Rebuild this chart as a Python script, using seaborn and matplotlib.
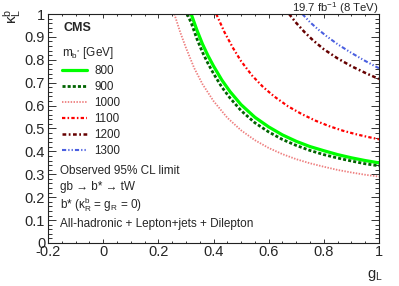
import pandas as pd
import matplotlib
matplotlib.use("Agg")
import matplotlib.pyplot as plt
from matplotlib.ticker import MultipleLocator
import seaborn as sns

# Observed 95% CL limit contours: g_L (x) vs kappa_L^b (y)
masses = ["800", "900", "1000", "1100", "1200", "1300"]

g_800 = [0.319, 0.34, 0.36, 0.38, 0.40, 0.43, 0.46, 0.50, 0.55, 0.60, 0.65, 0.70, 0.75, 0.80, 0.85, 0.90, 0.95, 1.0]
k_800 = [1.0, 0.929, 0.869, 0.818, 0.773, 0.712, 0.661, 0.604, 0.549, 0.507, 0.472, 0.444, 0.421, 0.403, 0.386, 0.372, 0.360, 0.350]

g_900 = [0.305, 0.32, 0.34, 0.36, 0.38, 0.40, 0.43, 0.46, 0.50, 0.55, 0.60, 0.65, 0.70, 0.75, 0.80, 0.85, 0.90, 0.95, 1.0]
k_900 = [1.0, 0.959, 0.891, 0.833, 0.784, 0.740, 0.681, 0.633, 0.578, 0.525, 0.485, 0.452, 0.426, 0.404, 0.386, 0.371, 0.358, 0.346, 0.337]

g_1000 = [0.258, 0.28, 0.30, 0.33, 0.36, 0.40, 0.45, 0.50, 0.55, 0.60, 0.65, 0.70, 0.75, 0.80, 0.85, 0.90, 0.95, 1.0]
k_1000 = [1.0, 0.918, 0.853, 0.764, 0.694, 0.620, 0.547, 0.492, 0.449, 0.415, 0.388, 0.366, 0.348, 0.333, 0.319, 0.308, 0.298, 0.290]

g_1100 = [0.41, 0.44, 0.47, 0.50, 0.54, 0.58, 0.62, 0.67, 0.72, 0.77, 0.82, 0.87, 0.92, 0.96, 1.0]
k_1100 = [1.0, 0.920, 0.853, 0.794, 0.731, 0.681, 0.640, 0.597, 0.563, 0.534, 0.510, 0.490, 0.474, 0.463, 0.453]

g_1200 = [0.674, 0.70, 0.73, 0.76, 0.80, 0.85, 0.90, 0.95, 1.0]
k_1200 = [1.0, 0.961, 0.921, 0.886, 0.846, 0.806, 0.772, 0.743, 0.716]

g_1300 = [0.722, 0.75, 0.78, 0.81, 0.85, 0.90, 0.95, 1.0]
k_1300 = [1.0, 0.964, 0.932, 0.903, 0.868, 0.830, 0.795, 0.763]

curves = {
    "800": (g_800, k_800),
    "900": (g_900, k_900),
    "1000": (g_1000, k_1000),
    "1100": (g_1100, k_1100),
    "1200": (g_1200, k_1200),
    "1300": (g_1300, k_1300),
}

styles = {
    "800": dict(color="#00ff00", linewidth=2.3, linestyle="-"),
    "900": dict(color="#006400", linewidth=2.0, linestyle=(0, (1.1, 0.75))),
    "1000": dict(color="#ee7f7f", linewidth=1.3, linestyle=(0, (0.8, 0.8))),
    "1100": dict(color="#ff0000", linewidth=1.6, linestyle=(0, (1.5, 1.0, 0.7, 1.0))),
    "1200": dict(color="#660000", linewidth=1.8, linestyle=(0, (1.5, 1.0, 0.7, 1.0))),
    "1300": dict(color="#4a5fe0", linewidth=1.5, linestyle=(0, (2.0, 1.0, 0.6, 1.0, 0.6, 1.0))),
}

sns.set_style("ticks")
plt.rcParams["font.family"] = ["Liberation Sans", "DejaVu Sans"]
plt.rcParams["mathtext.fontset"] = "custom"
plt.rcParams["mathtext.rm"] = "Liberation Sans"
plt.rcParams["mathtext.it"] = "Liberation Sans:italic"
plt.rcParams["mathtext.bf"] = "Liberation Sans:bold"

W, H = 399, 286
fig = plt.figure(figsize=(W / 100, H / 100), dpi=100)
ax = fig.add_axes([48 / W, 1 - 243 / H, 331 / W, 229 / H])

for m in masses:
    g, k = curves[m]
    df = pd.DataFrame({"g": g, "k": k})
    sns.lineplot(data=df, x="g", y="k", ax=ax, sort=False, estimator=None,
                 label=m, **styles[m])

ax.set_xlim(-0.2, 1.0)
ax.set_ylim(0, 1.0)
ax.xaxis.set_major_locator(MultipleLocator(0.2))
ax.xaxis.set_minor_locator(MultipleLocator(0.05))
ax.yaxis.set_major_locator(MultipleLocator(0.1))
ax.yaxis.set_minor_locator(MultipleLocator(0.02))
ax.xaxis.set_major_formatter(plt.FuncFormatter(lambda v, p: f"{v:g}"))
ax.yaxis.set_major_formatter(plt.FuncFormatter(lambda v, p: f"{v:g}"))

ax.tick_params(which="both", direction="in", top=True, right=True,
               labelsize=10.5, color="#333333", width=0.7)
ax.tick_params(axis="x", which="major", length=3.2, pad=1.5)
ax.tick_params(axis="x", which="minor", length=1.6)
ax.tick_params(axis="y", which="major", length=5.5, pad=2)
ax.tick_params(axis="y", which="minor", length=3.0)
for s in ax.spines.values():
    s.set_linewidth(0.8)
    s.set_color("#222222")

ax.set_xlabel(r"$\mathregular{g_{L}}$", fontsize=10.5, loc="right")
ax.xaxis.set_label_coords(1.012, -0.11)
ax.set_ylabel("")
fig.text(12 / W, 1 - 9 / H, r"$\mathrm{\kappa^{b}_{L}}$", fontsize=11,
         rotation=90, ha="center", va="top")

handles, labels = ax.get_legend_handles_labels()
leg = ax.legend(handles, labels, loc="upper left",
                bbox_to_anchor=(62 / W, 1 - 45 / H), bbox_transform=fig.transFigure,
                frameon=False, fontsize=8.4, title=r"$\mathregular{m_{b^{*}}}$ [GeV]",
                title_fontsize=8.5, alignment="left", handlelength=2.15,
                handletextpad=0.6, labelspacing=0.35, borderpad=0, borderaxespad=0)

fig.text(63 / W, 1 - 28 / H, "CMS", fontsize=9, weight="bold", va="center")
fig.text(379 / W, 1 - 11.5 / H, r"19.7 fb$^{-1}$ (8 TeV)", fontsize=8.2, ha="right",
         va="baseline")
fig.text(60 / W, 1 - 171 / H, "Observed 95% CL limit", fontsize=8.5, va="center")
fig.text(60 / W, 1 - 187 / H, "gb \u2192 b* \u2192 tW", fontsize=8.5, va="center")
fig.text(60 / W, 1 - 205 / H, r"b* ($\mathrm{\kappa^{b}_{R}}$ = $\mathregular{g_{R}}$ = 0)",
         fontsize=8.5, va="center")
fig.text(60 / W, 1 - 224 / H, "All-hadronic + Lepton+jets + Dilepton", fontsize=8.5,
         va="center")

fig.savefig("out.png", dpi=100)
